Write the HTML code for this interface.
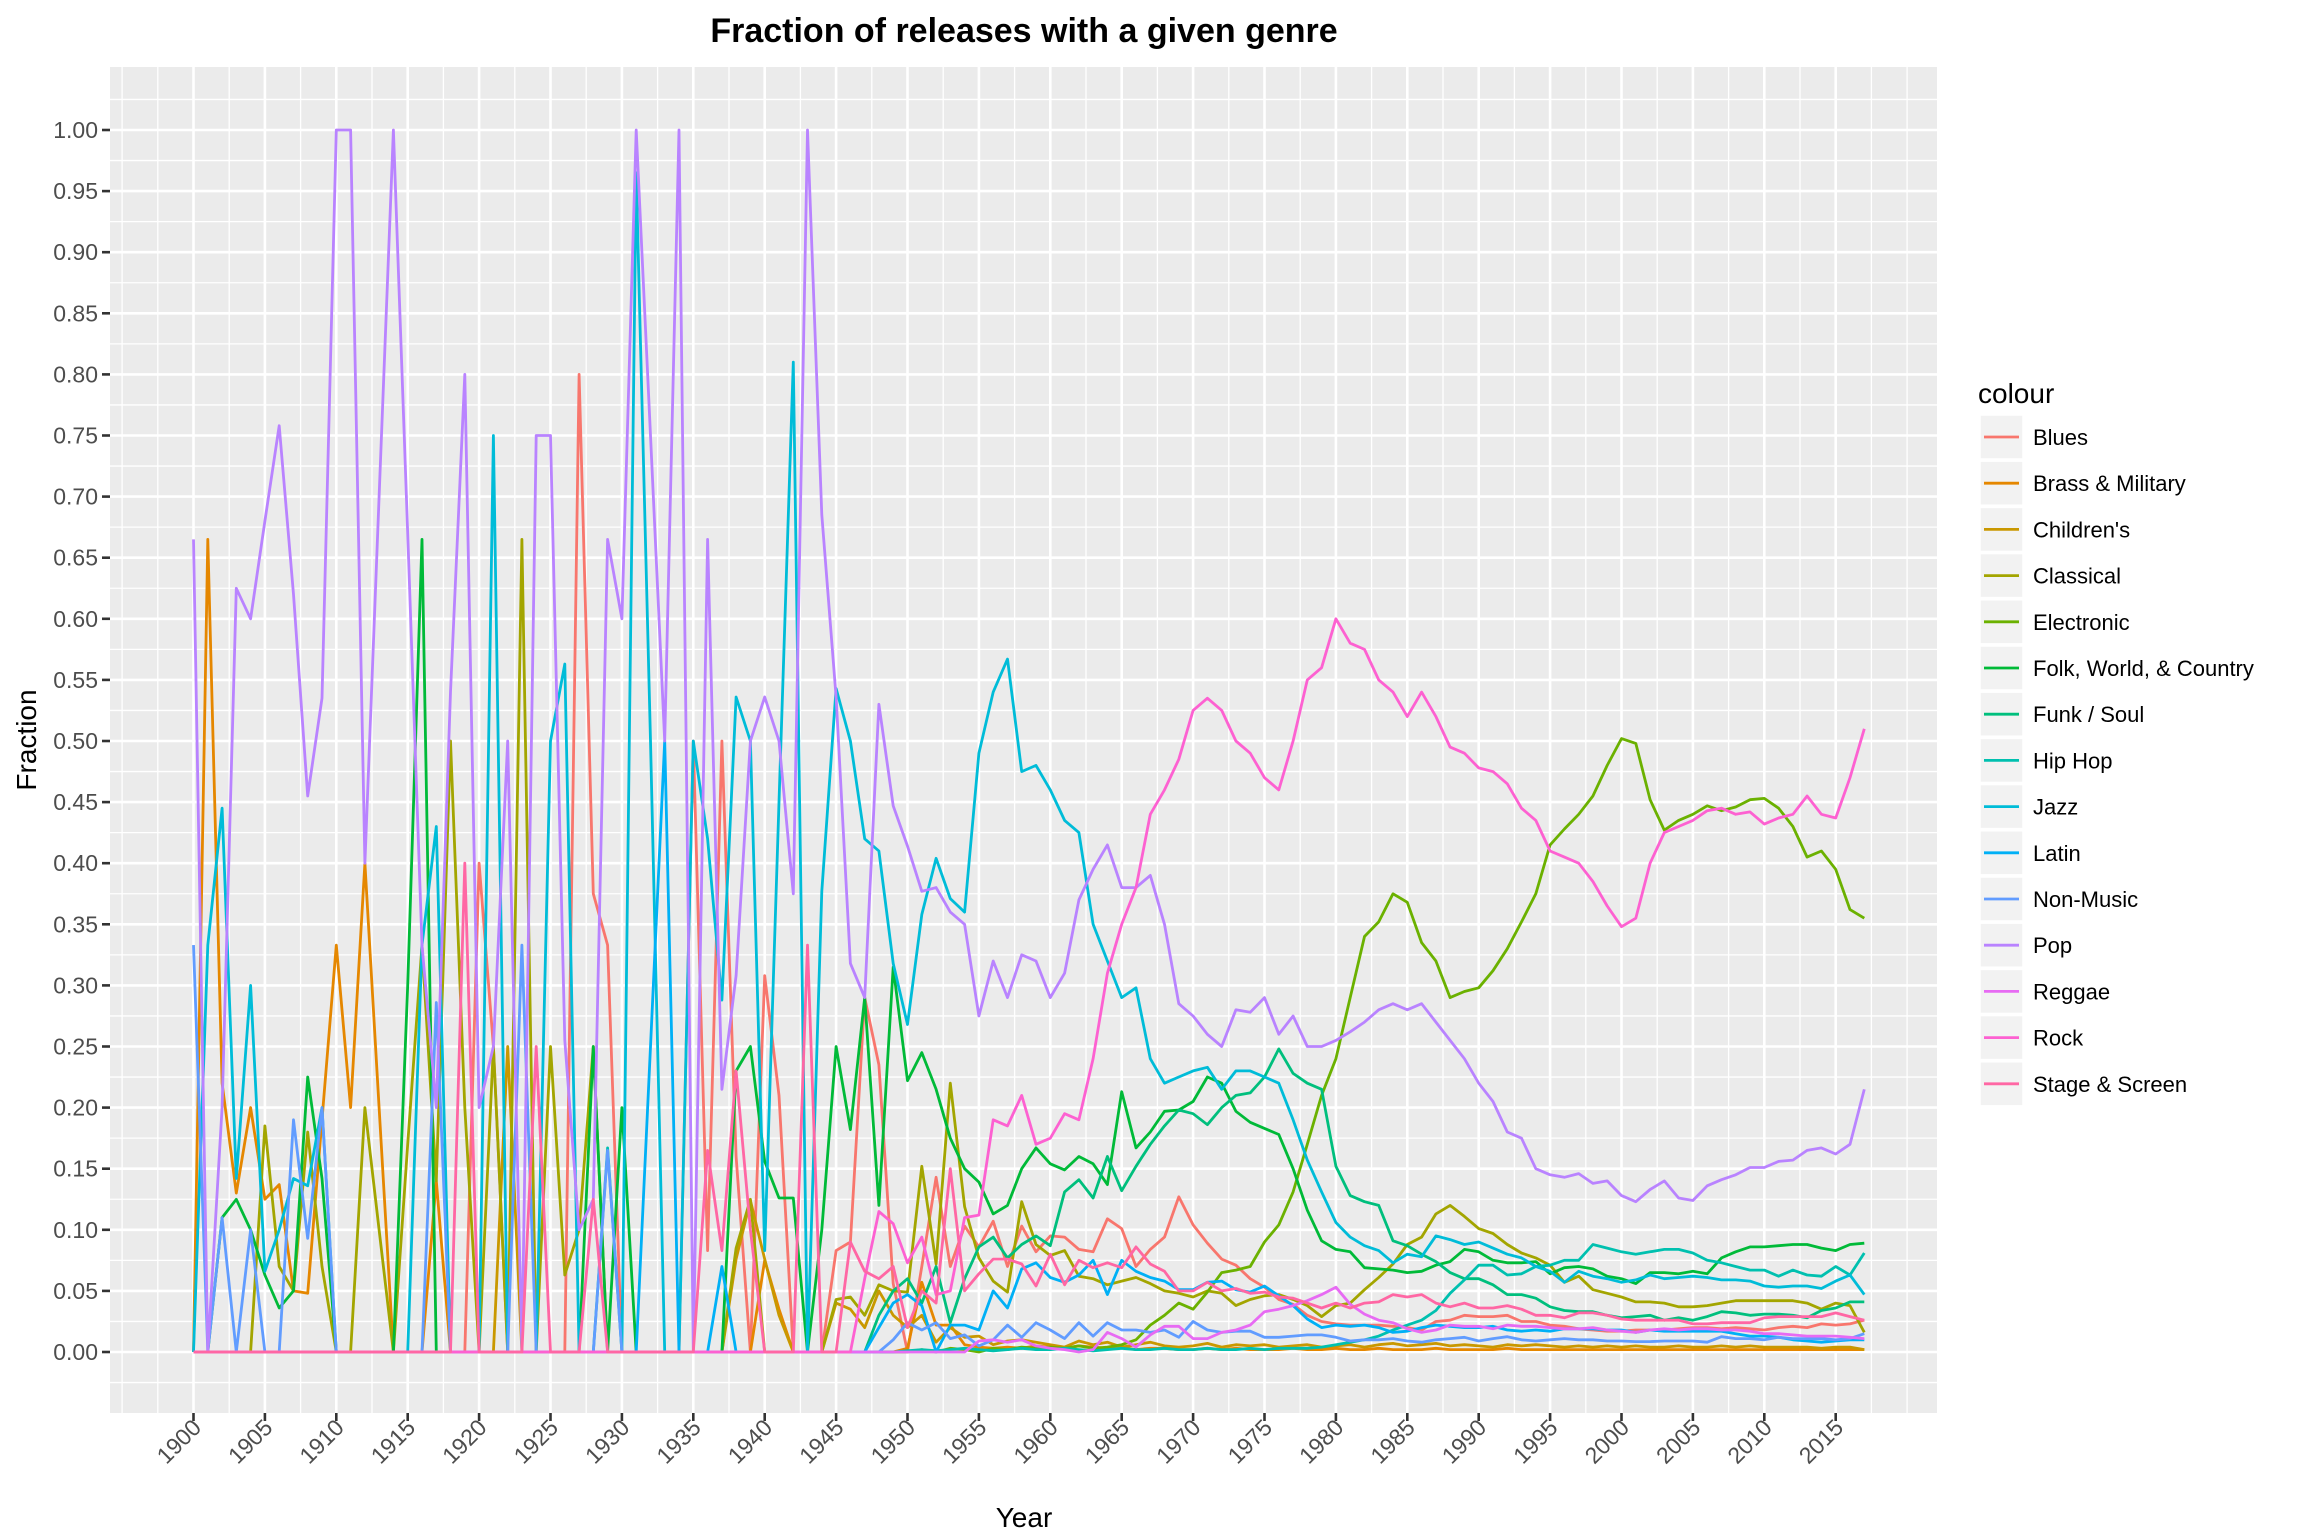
<!DOCTYPE html>
<html><head><meta charset="utf-8"><style>
html,body{margin:0;padding:0;background:#fff;}
svg{display:block;font-family:"Liberation Sans",sans-serif;}
</style></head><body>
<svg id="chart" width="2304" height="1536" viewBox="0 0 2304 1536" xmlns="http://www.w3.org/2000/svg">
<rect x="0" y="0" width="2304" height="1536" fill="#fff"/>
<text x="1024" y="42" text-anchor="middle" font-size="34" font-weight="bold" fill="#000">Fraction of releases with a given genre</text>
<g id="panel"></g>
<text x="1024" y="1527" text-anchor="middle" font-size="28" fill="#000">Year</text>
<text transform="translate(36,740) rotate(-90)" text-anchor="middle" font-size="28" fill="#000">Fraction</text>
<g id="legend"></g>
</svg>
<script>
const startYear = 1900;
const genreNames = ["Blues","Brass & Military","Children's","Classical","Electronic","Folk, World, & Country","Funk / Soul","Hip Hop","Jazz","Latin","Non-Music","Pop","Reggae","Rock","Stage & Screen"];
const colors = ["#F8766D","#E58700","#C99800","#A3A500","#6BB100","#00BA38","#00BF7D","#00C0AF","#00BCD8","#00B0F6","#619CFF","#B983FF","#E76BF3","#FD61D1","#FF67A4"];
const yTicks = [0,0.05,0.1,0.15,0.2,0.25,0.3,0.35,0.4,0.45,0.5,0.55,0.6,0.65,0.7,0.75,0.8,0.85,0.9,0.95,1.0];
const xTicks = [1900,1905,1910,1915,1920,1925,1930,1935,1940,1945,1950,1955,1960,1965,1970,1975,1980,1985,1990,1995,2000,2005,2010,2015];

const blues = [0,0,0,0,0,0,0,0,0,0, 0,0,0,0,0,0,0,0,0,0, 0.4,0.25,0,0,0,0,0,0.8,0.375,0.333, 0,0,0,0,0,0.5,0.083,0.5,0.16,0, 0.308,0.21,0,0,0,0.083,0.09,0.29,0.235,0.056,
0,0.07,0.143,0.07,0.103,0.086,0.107,0.07,0.103,0.082, 0.095,0.094,0.084,0.082,0.109,0.101,0.07,0.084,0.094,0.127, 0.104,0.089,0.076,0.071,0.06,0.053,0.043,0.039,0.03,0.025,
0.023,0.022,0.022,0.022,0.021,0.02,0.018,0.025,0.026,0.03, 0.029,0.029,0.03,0.025,0.025,0.022,0.021,0.019,0.018,0.017, 0.017,0.018,0.018,0.018,0.019,0.02,0.02,0.019,0.02,0.019, 0.018,0.02,0.021,0.02,0.023,0.022,0.023,0.026];
const brass = [0,0.665,0.22,0.13,0.2,0.125,0.137,0.05,0.048,0.19, 0.333,0.2,0.4,0.2,0,0,0,0.14,0,0, 0,0,0,0,0,0,0,0,0,0, 0,0,0,0,0,0,0,0,0,0, 0.075,0.035,0,0,0,0,0,0,0,0,
0.003,0.057,0.022,0.022,0.006,0.004,0.003,0.004,0.003,0.005, 0.004,0.003,0.005,0.004,0.003,0.004,0.002,0.003,0.003,0.002, 0.002,0.003,0.002,0.003,0.002,0.002,0.002,0.003,0.002,0.002,
0.003,0.002,0.002,0.003,0.002,0.002,0.002,0.003,0.002,0.002, 0.002,0.002,0.003,0.002,0.002,0.002,0.002,0.002,0.002,0.002, 0.002,0.002,0.002,0.002,0.002,0.002,0.002,0.002,0.002,0.002, 0.002,0.002,0.002,0.002,0.002,0.002,0.002,0.002];
const childrens = [0,0,0,0,0,0,0,0,0,0, 0,0,0,0,0,0,0,0,0,0, 0,0,0.25,0,0,0,0,0,0,0, 0,0,0,0,0,0,0,0,0.076,0.124, 0.076,0.03,0,0,0,0.04,0.035,0.02,0.05,0.03,
0.02,0.03,0.008,0.02,0.012,0.013,0.006,0.009,0.01,0.008, 0.006,0.004,0.009,0.006,0.008,0.004,0.006,0.008,0.005,0.004, 0.005,0.007,0.004,0.006,0.005,0.006,0.004,0.005,0.006,0.004,
0.005,0.006,0.004,0.006,0.007,0.005,0.006,0.007,0.005,0.006, 0.005,0.004,0.006,0.005,0.006,0.005,0.004,0.005,0.004,0.005, 0.004,0.005,0.004,0.004,0.005,0.004,0.004,0.005,0.004,0.005, 0.004,0.004,0.004,0.004,0.003,0.004,0.004,0.002];
const classical = [0,0,0,0,0,0.185,0.07,0.05,0.18,0.07, 0,0,0.2,0.1,0,0.17,0.333,0.14,0.5,0.2, 0,0.25,0,0.665,0,0.25,0.063,0.1,0.25,0, 0,0,0,0,0,0,0,0,0.085,0.125, 0,0,0,0,0,0.043,0.045,0.03,0.055,0.05,
0.049,0.152,0.072,0.22,0.119,0.077,0.058,0.049,0.123,0.088, 0.079,0.083,0.062,0.06,0.055,0.058,0.061,0.056,0.05,0.048, 0.045,0.05,0.048,0.038,0.043,0.046,0.047,0.043,0.038,0.029,
0.038,0.04,0.051,0.061,0.072,0.088,0.094,0.113,0.12,0.111, 0.101,0.097,0.088,0.081,0.077,0.071,0.057,0.062,0.051,0.048, 0.045,0.041,0.041,0.04,0.037,0.037,0.038,0.04,0.042,0.042, 0.042,0.042,0.042,0.04,0.035,0.04,0.038,0.016];
const electronic = [0,0,0,0,0,0,0,0,0,0, 0,0,0,0,0,0,0,0,0,0, 0,0,0,0,0,0,0,0,0,0, 0,0,0,0,0,0,0,0,0,0, 0,0,0,0,0,0,0,0,0,0,
0,0.002,0,0.003,0.002,0,0.003,0.002,0.004,0.003, 0.004,0.003,0.005,0.003,0.004,0.006,0.01,0.022,0.03,0.04, 0.035,0.049,0.065,0.067,0.07,0.09,0.104,0.131,0.17,0.21,
0.24,0.29,0.34,0.352,0.375,0.368,0.335,0.32,0.29,0.295, 0.298,0.312,0.33,0.352,0.375,0.415,0.428,0.44,0.455,0.48, 0.502,0.498,0.452,0.427,0.435,0.44,0.447,0.443,0.446,0.452, 0.453,0.445,0.43,0.405,0.41,0.395,0.362,0.355];
const folk = [0,0,0.11,0.125,0.1,0.063,0.036,0.05,0.225,0.142, 0,0,0,0,0,0.3,0.665,0,0,0, 0,0,0,0,0,0,0,0,0.25,0, 0.2,0,0,0,0,0,0,0,0.23,0.25, 0.156,0.126,0.126,0,0.1,0.25,0.182,0.29,0.12,0.315,
0.222,0.245,0.215,0.175,0.15,0.139,0.113,0.12,0.15,0.167, 0.154,0.149,0.16,0.154,0.137,0.213,0.167,0.18,0.197,0.198, 0.205,0.225,0.22,0.197,0.188,0.183,0.178,0.15,0.116,0.091,
0.084,0.082,0.069,0.068,0.067,0.065,0.066,0.071,0.074,0.084, 0.082,0.075,0.073,0.073,0.074,0.064,0.069,0.07,0.068,0.062, 0.06,0.056,0.065,0.065,0.064,0.066,0.064,0.077,0.082,0.086, 0.086,0.087,0.088,0.088,0.085,0.083,0.088,0.089];
const funk = [0,0,0,0,0,0,0,0,0,0, 0,0,0,0,0,0,0,0,0,0, 0,0,0,0,0,0,0,0,0,0, 0,0,0,0,0,0,0,0,0,0, 0,0,0,0,0,0,0,0,0.03,0.05,
0.06,0.04,0.07,0.024,0.06,0.086,0.094,0.077,0.088,0.095, 0.087,0.131,0.141,0.126,0.16,0.132,0.152,0.17,0.185,0.198, 0.195,0.186,0.2,0.21,0.212,0.225,0.248,0.228,0.22,0.215,
0.152,0.128,0.123,0.12,0.091,0.087,0.08,0.074,0.065,0.06, 0.06,0.055,0.047,0.047,0.044,0.037,0.034,0.033,0.033,0.03, 0.028,0.029,0.03,0.026,0.028,0.026,0.029,0.033,0.032,0.03, 0.031,0.031,0.03,0.028,0.034,0.036,0.041,0.041];
const hiphop = [0,0,0,0,0,0,0,0,0,0, 0,0,0,0,0,0,0,0,0,0, 0,0,0,0,0,0,0,0,0,0.167, 0,0,0,0,0,0,0,0,0,0, 0,0,0,0,0,0,0,0,0,0,
0.001,0.002,0.001,0.002,0.003,0.002,0.001,0.002,0.003,0.002, 0.002,0.003,0.002,0.001,0.002,0.003,0.002,0.002,0.003,0.002, 0.002,0.003,0.002,0.002,0.003,0.002,0.003,0.003,0.003,0.004,
0.006,0.008,0.01,0.013,0.018,0.022,0.026,0.034,0.048,0.059, 0.071,0.071,0.063,0.064,0.07,0.071,0.075,0.075,0.088,0.085, 0.082,0.08,0.082,0.084,0.084,0.081,0.075,0.073,0.07,0.067, 0.067,0.062,0.067,0.063,0.062,0.07,0.063,0.081];
const jazz = [0,0.333,0.445,0.142,0.3,0.066,0.1,0.142,0.136,0.2, 0,0,0,0,0,0,0.333,0.43,0,0, 0,0.75,0,0,0,0.5,0.563,0,0,0, 0,0.965,0.5,0,0,0.5,0.42,0.288,0.536,0.5, 0.083,0.45,0.81,0,0.377,0.543,0.5,0.42,0.41,0.318,
0.268,0.358,0.404,0.371,0.36,0.49,0.54,0.567,0.475,0.48, 0.46,0.435,0.425,0.35,0.32,0.29,0.298,0.24,0.22,0.225, 0.23,0.233,0.215,0.23,0.23,0.225,0.22,0.19,0.157,0.131,
0.106,0.094,0.087,0.083,0.073,0.08,0.078,0.095,0.092,0.088, 0.09,0.085,0.08,0.077,0.07,0.066,0.057,0.066,0.062,0.06, 0.057,0.059,0.063,0.06,0.061,0.062,0.061,0.059,0.059,0.058, 0.054,0.053,0.054,0.054,0.052,0.058,0.063,0.047];
const latin = [0,0,0,0,0,0,0,0,0,0, 0,0,0,0,0,0,0,0,0,0, 0,0,0,0,0,0,0,0,0,0, 0,0,0.25,0.5,0,0,0,0.07,0,0, 0,0,0,0,0,0,0,0,0.02,0.04,
0.047,0.038,0,0.022,0.022,0.018,0.05,0.036,0.068,0.073, 0.061,0.057,0.063,0.075,0.047,0.075,0.066,0.061,0.058,0.051, 0.051,0.057,0.058,0.051,0.049,0.054,0.046,0.038,0.027,0.02,
0.022,0.021,0.022,0.02,0.016,0.017,0.02,0.022,0.021,0.02, 0.02,0.021,0.018,0.017,0.018,0.017,0.019,0.019,0.019,0.018, 0.018,0.016,0.018,0.017,0.017,0.017,0.017,0.017,0.015,0.013, 0.013,0.012,0.01,0.009,0.008,0.009,0.01,0.01];
const nonmusic = [0.333,0,0.11,0,0.1,0,0,0.19,0.093,0.2, 0,0,0,0,0,0,0,0.286,0,0, 0,0,0,0.333,0,0,0,0,0,0.165, 0,0,0,0,0,0,0,0,0,0, 0,0,0,0,0,0,0,0,0,0.01,
0.024,0.018,0.024,0.011,0.014,0.005,0.01,0.022,0.012,0.024, 0.018,0.011,0.024,0.013,0.024,0.018,0.018,0.016,0.018,0.012, 0.025,0.018,0.016,0.017,0.017,0.012,0.012,0.013,0.014,0.014,
0.012,0.009,0.01,0.01,0.011,0.009,0.008,0.01,0.011,0.012, 0.009,0.011,0.0125,0.01,0.009,0.01,0.011,0.01,0.01,0.009, 0.009,0.0085,0.0085,0.009,0.009,0.009,0.008,0.0125,0.011,0.011, 0.01,0.012,0.011,0.011,0.011,0.01,0.011,0.015];
const pop = [0.665,0,0.2,0.625,0.6,0.68,0.758,0.62,0.455,0.535, 1,1,0.4,0.7,1,0.67,0.333,0.2,0.54,0.8, 0.2,0.25,0.5,0,0.75,0.75,0.255,0.1,0.125,0.665, 0.6,1,0.75,0.5,1,0,0.665,0.215,0.308,0.5, 0.536,0.5,0.375,1,0.685,0.536,0.318,0.29,0.53,0.447,
0.414,0.377,0.38,0.36,0.35,0.275,0.32,0.29,0.325,0.32, 0.29,0.31,0.37,0.395,0.415,0.38,0.38,0.39,0.35,0.285, 0.275,0.26,0.25,0.28,0.278,0.29,0.26,0.275,0.25,0.25,
0.255,0.262,0.27,0.28,0.285,0.28,0.285,0.27,0.255,0.24, 0.22,0.205,0.18,0.175,0.15,0.145,0.143,0.146,0.138,0.14, 0.128,0.123,0.133,0.14,0.126,0.124,0.136,0.141,0.145,0.151, 0.151,0.156,0.157,0.165,0.167,0.162,0.17,0.215];
const reggae = [0,0,0,0,0,0,0,0,0,0, 0,0,0,0,0,0,0,0,0,0, 0,0,0,0,0,0,0,0,0,0, 0,0,0,0,0,0,0,0,0,0, 0,0,0,0,0,0,0,0,0,0,
0,0,0,0,0,0.009,0.01,0.008,0.01,0.005, 0.003,0.002,0,0.002,0.016,0.011,0.004,0.014,0.021,0.021, 0.011,0.011,0.016,0.018,0.022,0.033,0.035,0.038,0.042,0.047,
0.053,0.039,0.031,0.026,0.024,0.019,0.016,0.018,0.022,0.021, 0.021,0.019,0.022,0.021,0.021,0.02,0.019,0.019,0.02,0.018, 0.017,0.016,0.018,0.019,0.018,0.019,0.019,0.018,0.018,0.017, 0.015,0.015,0.014,0.013,0.013,0.013,0.012,0.011];
const rock = [0,0,0,0,0,0,0,0,0,0, 0,0,0,0,0,0,0,0,0,0, 0,0,0,0,0,0,0,0,0,0, 0,0,0,0,0,0,0,0,0,0, 0,0,0,0,0,0,0,0.06,0.115,0.105,
0.073,0.094,0.047,0.05,0.11,0.112,0.19,0.185,0.21,0.17, 0.175,0.195,0.19,0.24,0.31,0.35,0.38,0.44,0.46,0.485, 0.525,0.535,0.525,0.5,0.49,0.47,0.46,0.5,0.55,0.56,
0.6,0.58,0.575,0.55,0.54,0.52,0.54,0.52,0.495,0.49, 0.478,0.475,0.465,0.445,0.435,0.41,0.405,0.4,0.385,0.365, 0.348,0.355,0.4,0.425,0.43,0.435,0.443,0.445,0.44,0.442, 0.432,0.437,0.44,0.455,0.44,0.437,0.47,0.51];
const stage = [0,0,0,0,0,0,0,0,0,0, 0,0,0,0,0,0,0,0,0,0.4, 0,0,0,0,0.25,0,0,0,0.125,0, 0,0,0,0,0,0,0.165,0.083,0.23,0.1, 0,0,0,0.333,0,0,0.09,0.066,0.06,0.07,
0.02,0.05,0.04,0.15,0.05,0.064,0.076,0.076,0.072,0.054, 0.08,0.055,0.075,0.069,0.073,0.069,0.086,0.072,0.066,0.05, 0.05,0.057,0.05,0.052,0.048,0.049,0.045,0.044,0.04,0.036,
0.04,0.036,0.04,0.041,0.047,0.045,0.047,0.04,0.037,0.04, 0.036,0.036,0.038,0.035,0.03,0.03,0.028,0.032,0.032,0.03, 0.027,0.026,0.026,0.026,0.026,0.023,0.023,0.024,0.024,0.024, 0.028,0.029,0.029,0.029,0.029,0.032,0.029,0.026];

const seriesList = [blues,brass,childrens,classical,electronic,folk,funk,hiphop,jazz,latin,nonmusic,pop,reggae,rock,stage];

const NS = "http://www.w3.org/2000/svg";
const PX0 = 110, PX1 = 1937, PY0 = 67, PY1 = 1413;
function xScale(yr){ return 193.5 + (yr - 1900) * 14.28; }
function yScale(v){ return 1352 - v * 1222; }
function mk(tag, attrs, parent){ const e = document.createElementNS(NS, tag); for (const k in attrs) e.setAttribute(k, attrs[k]); parent.appendChild(e); return e; }

const panel = document.getElementById('panel');
const svg = document.getElementById('chart');
mk('rect', {x:PX0, y:PY0, width:PX1-PX0, height:PY1-PY0, fill:'#EBEBEB'}, panel);
for (let v = -0.025; v <= 1.05; v += 0.05) {
  const y = yScale(v);
  const l = mk('line', {x1:PX0, x2:PX1, y1:y, y2:y, stroke:'#fff', 'stroke-width':1.3}, panel);
  
  
}
for (let yr = 1897.5; yr <= 2021; yr += 5) {
  const x = xScale(yr);
  const l = mk('line', {x1:x, x2:x, y1:PY0, y2:PY1, stroke:'#fff', 'stroke-width':1.3}, panel);
  
  
}
[1895, 2020].forEach(yr => {
  const x = xScale(yr);
  const l = mk('line', {x1:x, x2:x, y1:PY0, y2:PY1, stroke:'#fff', 'stroke-width':1.3}, panel);
  
  
});
yTicks.forEach(v => {
  const y = yScale(v);
  const l = mk('line', {x1:PX0, x2:PX1, y1:y, y2:y, stroke:'#fff', 'stroke-width':2.6}, panel);
  
  
  const t = mk('line', {x1:PX0-8, x2:PX0, y1:y, y2:y, stroke:'#333', 'stroke-width':2.6}, svg);
  
  
  const tx = mk('text', {x:PX0-12, y:y+8, 'text-anchor':'end', 'font-size':23, fill:'#4D4D4D'}, svg);
  tx.textContent = v.toFixed(2);
  
  
});
xTicks.forEach(yr => {
  const x = xScale(yr);
  const l = mk('line', {x1:x, x2:x, y1:PY0, y2:PY1, stroke:'#fff', 'stroke-width':2.6}, panel);
  
  
  const t = mk('line', {x1:x, x2:x, y1:PY1, y2:PY1+8, stroke:'#333', 'stroke-width':2.6}, svg);
  
  
  const tx = mk('text', {transform:`translate(${x+9},${PY1+16}) rotate(-45)`, 'text-anchor':'end', 'font-size':23, fill:'#4D4D4D'}, svg);
  tx.textContent = String(yr);
  
  
});
seriesList.forEach((arr, i) => {
  const pts = arr.map((v, k) => xScale(startYear + k).toFixed(1) + ',' + yScale(v).toFixed(1)).join(' ');
  const p = mk('polyline', {points:pts, fill:'none', stroke:colors[i], 'stroke-width':2.8, 'stroke-linejoin':'round'}, panel);
  
  
});
const leg = document.getElementById('legend');
const LX = 1978;
const lt = mk('text', {x:LX, y:403, 'font-size':28, fill:'#000'}, leg);
lt.textContent = 'colour';


genreNames.forEach((name, i) => {
  const cy = 437 + i * 46.2;
  const g = mk('g', {}, leg);
  
  
  mk('rect', {x:LX+2, y:cy-22, width:43, height:44, fill:'#F2F2F2', stroke:'#fff', 'stroke-width':1.5}, g);
  mk('line', {x1:LX+6, x2:LX+41, y1:cy, y2:cy, stroke:colors[i], 'stroke-width':2.8}, g);
  const t = mk('text', {x:LX+55, y:cy+8, 'font-size':22, fill:'#000'}, g);
  t.textContent = name;
});
</script>
</body></html>
